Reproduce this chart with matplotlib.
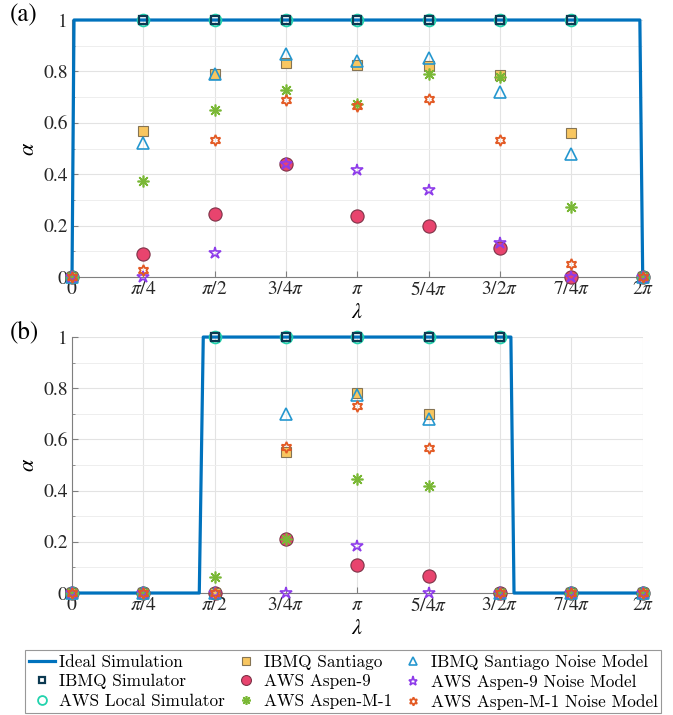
import numpy as np
import matplotlib
matplotlib.use("Agg")
import matplotlib.pyplot as plt
from matplotlib.ticker import MultipleLocator

plt.rcParams['font.family'] = ['STIXGeneral', 'Liberation Serif', 'DejaVu Serif']
plt.rcParams['mathtext.fontset'] = 'stix'

# lambda values in units of pi/4
lam = np.array([0, 1, 2, 3, 4, 5, 6, 7, 8]) * np.pi / 4
tick_labels = ['$0$', r'$\pi/4$', r'$\pi/2$', r'$3/4\pi$', r'$\pi$',
               r'$5/4\pi$', r'$3/2\pi$', r'$7/4\pi$', r'$2\pi$']

# ideal simulation curves (x in units of pi)
ideal_a_x = np.array([0, 0.007, 1.99, 2.0]) * np.pi
ideal_a_y = [0, 1, 1, 0]
ideal_b_x = np.array([0, 0.446, 0.46, 1.538, 1.549, 2.0]) * np.pi
ideal_b_y = [0, 0, 1, 1, 0, 0]

# panel (a)
sim_a = [0, 1, 1, 1, 1, 1, 1, 1, 0]
santiago_a = [0, 0.567, 0.79, 0.834, 0.825, 0.822, 0.786, 0.561, 0]
santiago_nm_a = [0, 0.523, 0.79, 0.868, 0.842, 0.851, 0.718, 0.477, 0]
aspen9_a = [0, 0.088, 0.245, 0.439, 0.238, 0.200, 0.114, 0.0, 0]
aspen9_nm_a = [0, 0.0, 0.094, 0.44, 0.418, 0.34, 0.134, 0.0, 0]
aspenm1_a = [0, 0.372, 0.65, 0.727, 0.675, 0.79, 0.78, 0.274, 0]
aspenm1_nm_a = [0, 0.026, 0.532, 0.69, 0.664, 0.694, 0.532, 0.052, 0]

# panel (b)
sim_b = [0, 0, 1, 1, 1, 1, 1, 0, 0]
santiago_b = [0, 0, 0, 0.552, 0.783, 0.70, 0, 0, 0]
santiago_nm_b = [0, 0, 0, 0.70, 0.772, 0.68, 0, 0, 0]
aspen9_b = [0, 0, 0, 0.21, 0.11, 0.067, 0, 0, 0]
aspen9_nm_b = [0, 0, 0, 0.0, 0.184, 0.0, 0, 0, 0]
aspenm1_b = [0, 0, 0.061, 0.21, 0.444, 0.418, 0, 0, 0]
aspenm1_nm_b = [0, 0, 0, 0.569, 0.73, 0.565, 0, 0, 0]

fig = plt.figure(figsize=(6.73, 7.15), dpi=100)
ax_a = fig.add_axes([0.107, 0.6126, 0.848, 0.3594])
ax_b = fig.add_axes([0.107, 0.1706, 0.848, 0.358])

asterisk = (8, 2, 0)
hexagram = (6, 1, 0)


def draw(ax, ix, iy, sim, sant, sant_nm, a9, a9_nm, am1, am1_nm):
    kw = dict(linestyle='none', clip_on=False)
    h = []
    h += ax.plot(ix, iy, color='#0072BD', lw=2.3, label='Ideal Simulation', clip_on=False, zorder=3)
    h += ax.plot(lam, sim, marker='s', ms=6, mfc='none', mec='#0c3a52', mew=1.6,
                 label='IBMQ Simulator', zorder=6, **kw)
    h += ax.plot(lam, sim, marker='o', ms=8.5, mfc='none', mec='#22d3ad', mew=1.3,
                 label='AWS Local Simulator', zorder=5, **kw)
    h += ax.plot(lam, sant, marker='s', ms=7, mfc='#F8C660', mec='#857454', mew=0.8,
                 label='IBMQ Santiago', zorder=7, **kw)
    h += ax.plot(lam, a9, marker='o', ms=9.5, mfc='#E8446E', mec='#7d3348', mew=0.8,
                 label='AWS Aspen-9', zorder=4, **kw)
    h += ax.plot(lam, am1, marker=asterisk, ms=8.5, mec='#7AB836', mew=1.2,
                 label='AWS Aspen-M-1', zorder=8, **kw)
    h += ax.plot(lam, sant_nm, marker='^', ms=8, mfc='none', mec='#2597CF', mew=1.2,
                 label='IBMQ Santiago Noise Model', zorder=8, **kw)
    h += ax.plot(lam, a9_nm, marker='*', ms=9, mfc='none', mec='#8E3CEA', mew=1.2,
                 label='AWS Aspen-9 Noise Model', zorder=8, **kw)
    h += ax.plot(lam, am1_nm, marker=hexagram, ms=8, mfc='none', mec='#E35A24', mew=1.3,
                 label='AWS Aspen-M-1 Noise Model', zorder=8, **kw)

    ax.set_xlim(0, 2 * np.pi)
    ax.set_ylim(0, 1)
    ax.set_xticks(lam)
    ax.set_xticklabels(tick_labels)
    ax.set_yticks([0, 0.2, 0.4, 0.6, 0.8, 1])
    ax.set_yticklabels(['0', '0.2', '0.4', '0.6', '0.8', '1'])
    ax.yaxis.set_minor_locator(MultipleLocator(0.1))
    ax.tick_params(axis='both', which='both', direction='in', colors='#7f7f7f',
                   labelcolor='#262626', labelsize=14, length=4)
    ax.tick_params(axis='x', pad=3)
    ax.tick_params(axis='y', pad=3)
    ax.tick_params(axis='y', which='minor', length=2.5)
    ax.grid(True, which='major', color='#e3e3e3', lw=0.8)
    ax.grid(True, which='minor', axis='y', color='#eeeeee', lw=0.7)
    ax.set_axisbelow(True)
    for s in ['top', 'right']:
        ax.spines[s].set_visible(False)
    for s in ['left', 'bottom']:
        ax.spines[s].set_color('#7f7f7f')
        ax.spines[s].set_linewidth(0.8)
    ax.set_xlabel(r'$\lambda$', fontsize=16, labelpad=3)
    ax.set_ylabel(r'$\alpha$', fontsize=16, labelpad=3)
    return h


handles = draw(ax_a, ideal_a_x, ideal_a_y, sim_a, santiago_a, santiago_nm_a,
               aspen9_a, aspen9_nm_a, aspenm1_a, aspenm1_nm_a)
draw(ax_b, ideal_b_x, ideal_b_y, sim_b, santiago_b, santiago_nm_b,
     aspen9_b, aspen9_nm_b, aspenm1_b, aspenm1_nm_b)

fig.text(0.015, 0.978, '(a)', fontsize=18, va='center')
fig.text(0.015, 0.535, '(b)', fontsize=18, va='center')

leg = fig.legend(handles=handles, loc='lower center', bbox_to_anchor=(0.51, 0.0), ncol=3,
                 prop={'family': 'cmr10', 'size': 12.4}, frameon=True, fancybox=False,
                 edgecolor='#7f7f7f', handlelength=1.5, handletextpad=0.25,
                 columnspacing=0.5, labelspacing=0.25, borderpad=0.2, borderaxespad=0.1,
                 markerscale=0.75)
leg.get_frame().set_linewidth(0.8)

fig.savefig('out.png', dpi=100)
